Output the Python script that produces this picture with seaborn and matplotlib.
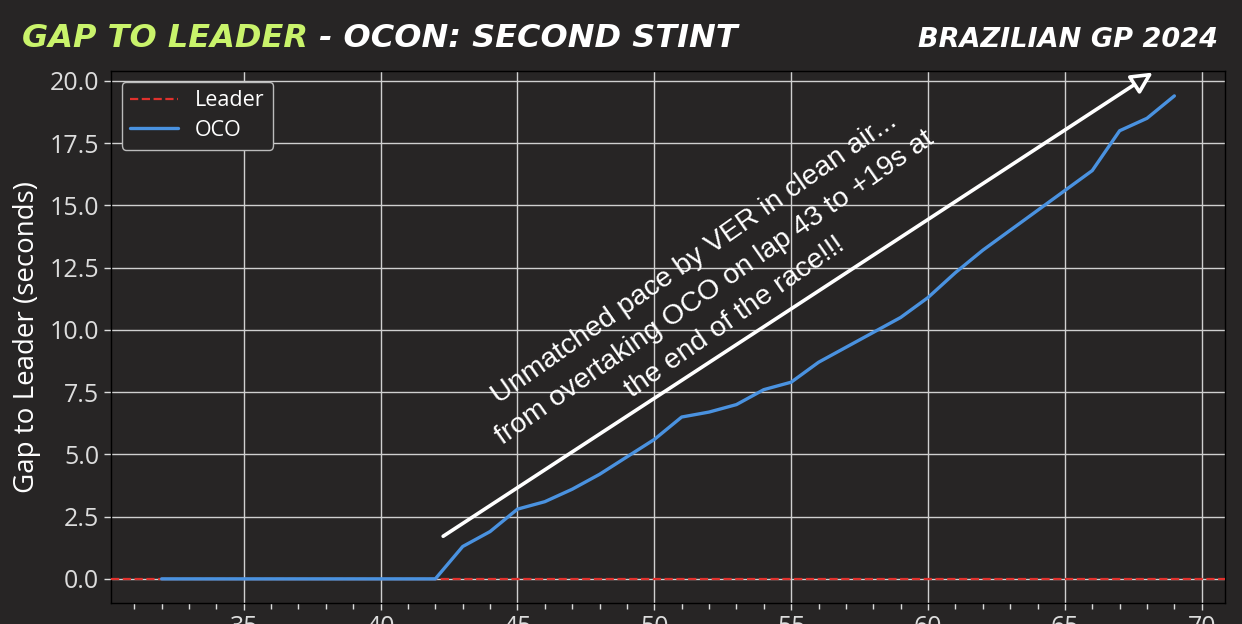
"""Gap to leader for Ocon's second stint, Brazilian GP 2024."""
import matplotlib

matplotlib.use("Agg")
import matplotlib.pyplot as plt
import pandas as pd
import seaborn as sns
from matplotlib.ticker import MultipleLocator

# Lap-by-lap gap of OCO to the race leader (seconds)
laps = list(range(32, 70))
oco_gap = [0.0] * 11 + [
    1.3, 1.9, 2.8, 3.1, 3.6, 4.2, 4.9, 5.6, 6.5, 6.7, 7.0, 7.6, 7.9,
    8.7, 9.3, 9.9, 10.5, 11.3, 12.3, 13.2, 14.0, 14.8, 15.6, 16.4, 18.0, 18.5, 19.4,
]
leader_gap = 0.0

title_left = "GAP TO LEADER"
title_rest = " - OCON: SECOND STINT"
title_right = "BRAZILIAN GP 2024"
note = ("Unmatched pace by VER in clean air...\n"
        "from overtaking OCO on lap 43 to +19s at\n"
        "the end of the race!!!")

BG = "#272525"
BLUE = "#4a92e0"
RED = "#e0312d"
LIME = "#c9f36b"
TITLE_FONT = dict(fontweight="bold", fontstyle="italic", family="DejaVu Sans")

sns.set_theme(style="darkgrid")
plt.rcParams.update({
    "figure.facecolor": BG,
    "axes.facecolor": BG,
    "axes.edgecolor": "black",
    "grid.color": "#d0d0d0",
    "grid.linewidth": 1.0,
    "text.color": "white",
    "axes.labelcolor": "white",
    "xtick.color": "#dddddd",
    "ytick.color": "#dddddd",
    "xtick.bottom": True,
    "ytick.left": True,
})
plt.rcParams["font.family"] = ["Open Sans", "DejaVu Sans"]

df = pd.DataFrame({"lap": laps, "gap": oco_gap})

fig = plt.figure(figsize=(12.42, 6.24), dpi=100)
ax = fig.add_axes([111 / 1242, 21 / 624, (1225 - 111) / 1242, (603 - 71) / 624])

ax.axhline(leader_gap, color=RED, ls="--", lw=1.6, label="Leader", zorder=3)
sns.lineplot(data=df, x="lap", y="gap", color=BLUE, lw=2.4, label="OCO", ax=ax, zorder=4)

ax.set_xlim(30.15, 70.85)
ax.set_ylim(-0.97, 20.4)
ax.xaxis.set_major_locator(MultipleLocator(5))
ax.xaxis.set_minor_locator(MultipleLocator(1))
ax.yaxis.set_major_locator(MultipleLocator(2.5))
ax.tick_params(axis="both", which="major", labelsize=18, length=5, width=1)
ax.tick_params(axis="x", which="minor", length=4, width=1, color="#dddddd")
ax.grid(True, which="major")
ax.grid(False, which="minor")
ax.set_xlabel("")
ax.set_ylabel("Gap to Leader (seconds)", fontsize=20, labelpad=6)
for s in ax.spines.values():
    s.set_color("black")
    s.set_linewidth(1.0)

leg = ax.legend(loc="upper left", fontsize=15.5, facecolor=BG, edgecolor="#bbbbbb",
                framealpha=1, borderpad=0.4, handlelength=2.2, labelspacing=0.4)
for t in leg.get_texts():
    t.set_color("white")

ax.annotate("", xy=(68.3, 20.4), xytext=(42.2, 1.65), annotation_clip=False,
            arrowprops=dict(arrowstyle="-|>", color="white", fc=BG, ec="white",
                            lw=2.6, mutation_scale=32))
ax.text(52.2, 11.7, note, rotation=35, rotation_mode="anchor", ha="center", va="center",
        multialignment="center", fontsize=20.5, color="white", family="Liberation Sans",
        linespacing=1.5)

t1 = fig.text(22 / 1242, 1 - 47 / 624, title_left, color=LIME, fontsize=23,
              va="baseline", **TITLE_FONT)
fig.canvas.draw()
ax.annotate(title_rest, xy=(1, 0), xycoords=t1, va="bottom", ha="left", color="white",
            fontsize=23, annotation_clip=False, **TITLE_FONT)
fig.text(1218 / 1242, 1 - 47 / 624, title_right, color="white", fontsize=19.5,
         ha="right", va="baseline", **TITLE_FONT)

fig.savefig("out.png", dpi=100, facecolor=BG)
